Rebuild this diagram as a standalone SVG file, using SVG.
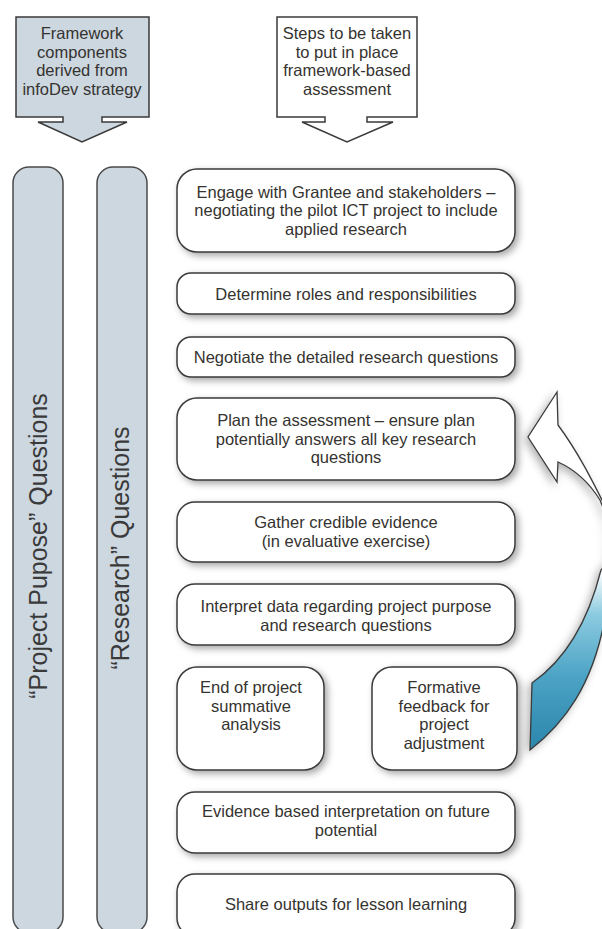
<svg xmlns="http://www.w3.org/2000/svg" width="602" height="929" viewBox="0 0 602 929">
<defs>
<style>
.t{font-family:"Liberation Sans",Arial,sans-serif;font-size:16.5px;fill:#353330;text-anchor:middle}
.v{font-family:"Liberation Sans",Arial,sans-serif;font-size:25px;fill:#3a3a3a;text-anchor:middle}
.box{fill:#ffffff;stroke:#3a3a3a;stroke-width:1.5;filter:url(#sh)}
.bar{fill:#cdd7e0;stroke:#4a4a4a;stroke-width:1.5}
</style>
<filter id="sh" x="-10%" y="-20%" width="130%" height="160%">
<feDropShadow dx="3" dy="3" stdDeviation="3.5" flood-color="#000" flood-opacity="0.35"/>
</filter>
<filter id="sh2" x="-30%" y="-10%" width="160%" height="130%">
<feDropShadow dx="-3" dy="3" stdDeviation="4" flood-color="#000" flood-opacity="0.3"/>
</filter>
<linearGradient id="blue" x1="0" y1="0" x2="0" y2="1" gradientUnits="objectBoundingBox">
<stop offset="0" stop-color="#ffffff"/>
<stop offset="0.5" stop-color="#ffffff"/>
<stop offset="0.62" stop-color="#8ccbe0"/>
<stop offset="0.8" stop-color="#4aa2c4"/>
<stop offset="1" stop-color="#2b86ac"/>
</linearGradient>
</defs>
<rect width="602" height="929" fill="#ffffff"/>

<g id="header-framework">
<path d="M16,17 H149 V117 H102 V122 H127 L82,142 L38,122 H63 V117 H16 Z" fill="#cdd7e0" stroke="#3a3a3a" stroke-width="1.5"/>
<text class="t" x="82" y="39">Framework</text>
<text class="t" x="82" y="57.5">components</text>
<text class="t" x="82" y="76">derived from</text>
<text class="t" x="82" y="94.5">infoDev strategy</text>
</g>

<g id="header-steps">
<path d="M277,17 H417 V117 H367 V122 H393 L347,142 L302,122 H325 V117 H277 Z" fill="#ffffff" stroke="#3a3a3a" stroke-width="1.5"/>
<text class="t" x="347" y="39">Steps to be taken</text>
<text class="t" x="347" y="57.5">to put in place</text>
<text class="t" x="347" y="76">framework-based</text>
<text class="t" x="347" y="94.5">assessment</text>
</g>

<g id="bar-purpose">
<rect class="bar" x="13" y="167" width="50" height="766" rx="16"/>
<text class="v" transform="translate(47,546) rotate(-90)">“Project Pupose” Questions</text>
</g>

<g id="bar-research">
<rect class="bar" x="97" y="167" width="50" height="766" rx="16"/>
<text class="v" transform="translate(129,548) rotate(-90)">“Research” Questions</text>
</g>

<g id="connectors">
<path d="M530,750 C566,722 592,684 604,623 L614,565 L606,508 C592,480 578,452 558,425 L557,392 L528,437 L557,482 L558,462 C576,470 590,484 600,500 L610,525 L610,560 L601,570 C588,622 565,660 532,683 Z" fill="url(#blue)" stroke="#3a3a3a" stroke-width="1.3" filter="url(#sh2)"/>
</g>

<g id="step1">
<rect class="box" x="177" y="169" width="338" height="83" rx="20"/>
<text class="t" x="346" y="197.5">Engage with Grantee and stakeholders –</text>
<text class="t" x="346" y="216">negotiating the pilot ICT project to include</text>
<text class="t" x="346" y="234.5">applied research</text>
</g>

<g id="step2">
<rect class="box" x="177" y="273" width="338" height="41" rx="14"/>
<text class="t" x="346" y="299.5">Determine roles and responsibilities</text>
</g>

<g id="step3">
<rect class="box" x="177" y="337" width="338" height="40" rx="14"/>
<text class="t" x="346" y="363">Negotiate the detailed research questions</text>
</g>

<g id="step4">
<rect class="box" x="177" y="398" width="338" height="82" rx="20"/>
<text class="t" x="346" y="426">Plan the assessment – ensure plan</text>
<text class="t" x="346" y="444.5">potentially answers all key research</text>
<text class="t" x="346" y="463">questions</text>
</g>

<g id="step5">
<rect class="box" x="177" y="502" width="338" height="60" rx="18"/>
<text class="t" x="346" y="528">Gather credible evidence</text>
<text class="t" x="346" y="547">(in evaluative exercise)</text>
</g>

<g id="step6">
<rect class="box" x="177" y="584" width="338" height="61" rx="18"/>
<text class="t" x="346" y="612">Interpret data regarding project purpose</text>
<text class="t" x="346" y="631">and research questions</text>
</g>

<g id="step7a">
<rect class="box" x="177" y="667" width="147" height="103" rx="20"/>
<text class="t" x="251" y="693">End of project</text>
<text class="t" x="251" y="711.5">summative</text>
<text class="t" x="251" y="730">analysis</text>
</g>

<g id="step7b">
<rect class="box" x="372" y="667" width="145" height="103" rx="20"/>
<text class="t" x="444" y="693">Formative</text>
<text class="t" x="444" y="711.5">feedback for</text>
<text class="t" x="444" y="730">project</text>
<text class="t" x="444" y="748.5">adjustment</text>
</g>

<g id="step8">
<rect class="box" x="177" y="792" width="338" height="61" rx="18"/>
<text class="t" x="346" y="817">Evidence based interpretation on future</text>
<text class="t" x="346" y="835.5">potential</text>
</g>

<g id="step9">
<rect class="box" x="177" y="874" width="338" height="62" rx="18"/>
<text class="t" x="346" y="910">Share outputs for lesson learning</text>
</g>
</svg>
